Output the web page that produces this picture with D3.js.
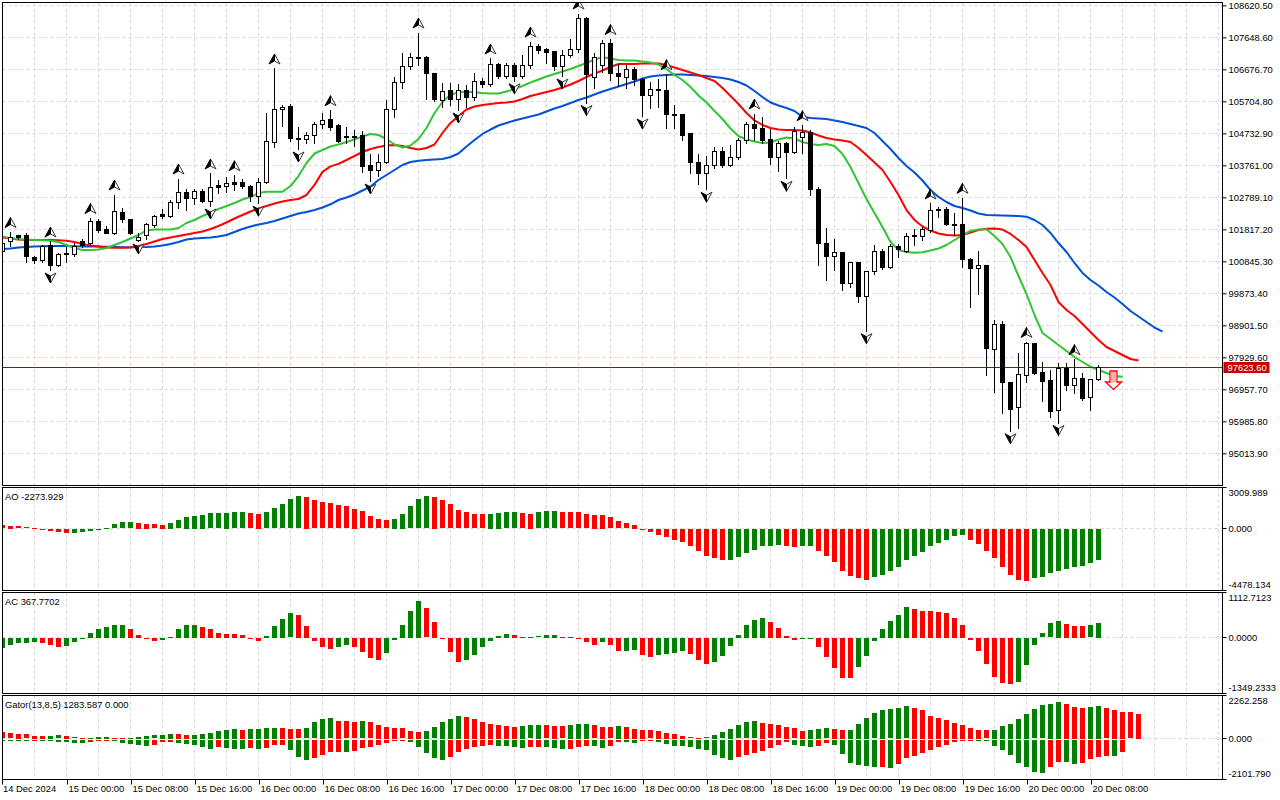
<!DOCTYPE html>
<html><head><meta charset="utf-8">
<script src="https://cdn.jsdelivr.net/npm/d3@7/dist/d3.min.js"></script>
<style>
html,body{margin:0;padding:0;background:#fff;}
svg{display:block;}
text{font-family:"Liberation Sans",Arial,sans-serif;font-size:9.4px;fill:#000;}
</style></head><body>
<svg id="c" width="1280" height="800"></svg>
<script>
// ---------------- DATA (BTCUSD H1) ----------------
const firstBarTime = "2024-12-14T16:00";
const lastPrice = 97623.60;

const open = [101158,101432,101644,101629,100961,100870,101340,100712,101097,101067,
101432,101401,102069,101796,101696,102334,102121,101492,101644,101933,
102252,102221,102637,102950,102738,102965,102656,103141,103117,103236,
103236,103132,102806,103236,104460,105441,105532,104581,104551,104651,
105006,105137,104955,104612,104605,104651,103740,103597,103846,105462,
106282,106762,107050,107041,106549,105744,106018,105766,106048,105826,
106321,106221,106829,106452,106807,106473,106786,107384,107263,107211,
106756,107111,107263,108226,106434,106777,107466,106534,106434,106677,
106352,105896,106063,106048,105289,105289,104712,103849,103518,103758,
104174,103758,104007,104511,104985,104885,104554,103983,104408,104144,
104612,104754,103011,101371,100985,101119,100177,100824,99770,100529,
101158,100663,101289,101137,101599,101599,101775,102425,102425,101978,
101948,100912,100633,100703,98173,98911,97173,96399,97392,98334,
97465,97210,96308,97596,97067,97292,96715,97262];
const high = [101492,101735,101659,101705,101006,101350,101447,101088,101280,101410,
101523,102160,102145,101917,102874,102455,102130,101705,102018,102252,
102425,102707,103360,103032,103041,103041,103512,103315,103406,103460,
103345,103163,103366,105349,106701,105592,105623,104924,104782,105076,
105349,105435,105006,104924,104833,104803,104104,104104,105744,106443,
107163,107163,107794,107066,106564,106252,106252,106230,106200,106555,
106403,107005,106859,106859,106859,107111,107521,107445,107315,107217,
107263,107588,108371,108265,107163,107567,107597,106838,106807,106756,
106403,106300,106382,106528,105592,105319,104733,104104,104044,104317,
104326,104378,104605,105076,105334,105219,104854,104511,104478,104915,
104979,104833,103093,101848,101514,101137,100833,100833,100551,101340,
101210,101371,101371,101702,101823,101896,102601,102504,102485,102309,
102775,100943,101158,100733,99062,99041,97192,98066,98397,98354,
97799,97544,97767,97767,97873,97465,97280,97696];
const low = [101097,101310,101523,100824,100794,100833,100581,100703,100824,101006,
101280,101340,101735,101690,101675,102030,101675,101462,101523,101902,
102151,102182,102464,102403,102586,102637,102525,102920,102959,103011,
103081,102662,102610,103217,104308,104955,104499,104256,104430,104439,
104894,104833,104460,104447,104347,103567,103284,103436,103816,105219,
106100,106671,106807,105775,105729,105532,105592,105441,105541,105744,
106130,106170,106412,106403,106327,106403,106725,107163,106877,106655,
106473,107041,107211,105668,106109,106595,106352,106170,106109,106200,
105258,105501,105532,104885,104894,104529,103518,103208,103035,103679,
103700,103725,103946,104439,104529,104447,103801,103597,103366,104126,
104135,102859,100733,100277,100581,99974,100074,99600,98738,100460,
100602,100651,100973,101119,101340,101492,101744,102200,101948,101644,
100669,99466,99852,97392,96867,96229,95697,95773,97192,97422,
96611,96107,95949,96936,96836,96633,96329,97240];
const close = [101401,101583,101583,100976,100870,101289,100703,101058,101067,101289,
101340,102069,101766,101693,102343,102100,101696,101583,101978,102221,
102206,102646,102941,102738,102959,102662,103087,103087,103205,103163,
103111,102806,103248,104469,105441,105523,104581,104560,104651,105015,
105128,104924,104499,104642,104621,103718,103597,103846,105462,106282,
106762,107041,107020,106549,105760,105996,105766,106048,105826,106321,
106221,106829,106452,106807,106473,106807,107384,107242,107181,106756,
107111,107263,108226,106504,107041,107466,106534,106452,106677,106352,
105896,106069,106069,105289,105280,104681,103849,103518,103764,104174,
103758,104007,104511,104985,104885,104529,103983,104408,104144,104782,
104754,103011,101371,100985,101119,100156,100824,99770,100529,101137,
100651,101289,101189,101599,101614,101796,102403,102412,101969,101963,
100912,100633,100703,98203,98911,97173,96350,97416,98334,97443,
97192,96277,97596,97067,97292,96684,97262,97623.6];

// Alligator (13,8,5 / shifts 8,5,3) - values per displayed bar, starting at bar 0
const jaw = [101219,101234,101264,101280,101295,101301,101310,101310,101310,101301,
101295,101295,101295,101289,101280,101271,101271,101271,101280,101295,
101325,101371,101432,101507,101538,101553,101568,101599,101644,101735,
101826,101902,101963,102009,102069,102145,102221,102297,102343,102403,
102479,102577,102707,102783,102874,102996,103117,103315,103467,103618,
103770,103861,103901,103922,103937,103952,104013,104119,104332,104529,
104712,104848,104970,105046,105122,105182,105243,105304,105395,105486,
105562,105653,105744,105820,105911,106002,106078,106154,106230,106306,
106397,106458,106488,106504,106519,106519,106504,106488,106473,106443,
106412,106367,106291,106185,106018,105835,105668,105577,105501,105410,
105228,105198,105182,105167,105122,105076,105015,104955,104894,104742,
104499,104256,103983,103740,103542,103299,103011,102801,102646,102525,
102464,102388,102297,102252,102242,102236,102230,102221,102200,102100,
101948,101705,101401,101128,100794,100490,100277,100110,99913,99746,
99548,99336,99169,99002,98835,98708];
const teeth = [101568,101538,101507,101492,101492,101492,101492,101483,101471,101432,
101371,101325,101295,101264,101258,101258,101264,101310,101371,101447,
101523,101568,101614,101659,101705,101751,101826,101917,102024,102145,
102252,102358,102449,102525,102601,102662,102707,102738,102859,103163,
103561,103728,103804,103922,104044,104165,104256,104317,104362,104378,
104347,104287,104241,104287,104393,104742,105046,105258,105456,105547,
105592,105623,105653,105668,105699,105775,105866,105926,105987,106048,
106124,106215,106321,106443,106549,106640,106747,106838,106838,106838,
106853,106853,106853,106807,106731,106655,106580,106504,106412,106321,
106109,105866,105623,105349,105122,104985,104894,104848,104833,104833,
104818,104757,104666,104590,104545,104514,104469,104287,104074,103846,
103618,103254,102859,102403,102100,101902,101781,101690,101644,101629,
101644,101720,101796,101836,101842,101811,101675,101492,101280,100885,
100490,100126,99609,99366,99184,98941,98698,98455,98242,98121,
98000,97878,97833];
const lips = [101593,101553,101514,101501,101492,101483,101471,101432,101340,101249,
101189,101189,101204,101249,101340,101432,101538,101644,101781,101811,
101811,101811,101857,102009,102100,102221,102327,102434,102525,102616,
102722,102798,102920,102959,102959,102959,103132,103436,103831,104119,
104225,104332,104393,104469,104545,104636,104712,104681,104560,104393,
104302,104362,104560,104894,105349,105684,105911,105972,105996,105978,
105957,105942,105942,106002,106078,106170,106276,106367,106458,106534,
106610,106686,106777,106868,106974,107041,107005,106959,106944,106944,
106914,106883,106822,106686,106504,106352,106139,105881,105668,105410,
105167,104879,104651,104545,104484,104439,104454,104545,104605,104575,
104469,104408,104378,104408,104347,104104,103710,103224,102738,102312,
101887,101432,101189,101128,101107,101119,101173,101234,101340,101492,
101644,101766,101811,101817,101614,101371,100976,100399,99852,99214,
98667,98485,98303,98121,97939,97787,97645,97544,97453,97362,
97340];

// Fractal bars
const fractalUp = [1,6,11,14,22,26,29,34,41,52,61,66,72,76,83,94,100,116,120,128,134];
const fractalDown = [6,17,26,32,37,46,57,64,70,73,80,88,98,108,126,132];

// Signal arrow
const signalBar = 139, signalPrice = 97514;

// Awesome Oscillator
const aoValues = [250,230,170,100,60,-40,-120,-240,-320,-310,
-245,-120,-50,70,320,460,470,415,340,315,
300,415,610,850,925,1000,1120,1125,1145,1195,
1200,1120,1095,1195,1485,1780,2140,2360,2340,2070,
1925,1850,1705,1630,1460,1265,900,680,610,730,
1095,1630,2140,2360,2310,2070,1780,1340,1195,1045,
1040,1095,1145,1195,1200,1120,1110,1190,1265,1270,
1195,1190,1185,1045,1000,995,830,535,390,290,
-30,-240,-415,-560,-780,-925,-1220,-1580,-1950,-2140,
-2240,-2235,-2020,-1730,-1510,-1265,-1220,-1145,-1220,-1290,
-1270,-1265,-1580,-1950,-2435,-3045,-3460,-3605,-3700,-3530,
-3335,-3045,-2750,-2240,-1950,-1655,-1265,-1000,-780,-535,
-440,-780,-1070,-1580,-2140,-2800,-3335,-3750,-3825,-3605,
-3530,-3240,-3045,-2945,-2800,-2680,-2510,-2273.929];
// Accelerator Oscillator
const acValues = [-237,-170,-123,-115,-98,-130,-172,-220,-196,-98,
-20,122,212,261,310,311,212,65,-25,-65,
-55,25,212,310,315,261,212,114,90,88,
65,-10,-80,49,286,457,596,555,286,-80,
-220,-278,-220,-180,-220,-351,-490,-547,-368,-41,
310,653,898,719,384,-25,-351,-588,-547,-425,
-220,-74,41,90,65,25,16,33,65,66,
25,8,-8,-98,-163,-98,-180,-318,-310,-290,
-425,-465,-425,-400,-368,-318,-400,-547,-645,-596,
-449,-204,65,310,433,490,384,245,49,-41,
-30,-25,-220,-465,-735,-980,-985,-710,-441,-74,
212,408,555,751,702,653,650,629,604,482,
310,-41,-318,-637,-956,-1103,-1127,-1078,-654,-172,
106,351,408,335,294,290,300,367.7702];
// Gator oscillator (upper shifted 5, lower shifted 3)
const gatorUpper = [329,277,242,225,156,139,156,173,139,69,
35,52,87,90,35,17,52,87,139,173,
208,242,240,190,192,242,294,416,450,502,
468,502,505,554,572,554,502,485,537,849,
1022,1057,935,900,849,900,849,727,624,572,
537,398,346,416,589,883,1022,1178,1126,1022,
866,762,710,658,606,658,693,710,693,658,
641,710,762,779,693,606,589,658,624,502,
450,433,398,312,242,139,69,35,69,190,
329,502,693,849,900,814,745,693,606,537,
416,450,520,537,520,450,468,762,1074,1316,
1490,1524,1593,1680,1593,1490,1178,1074,970,814,
710,554,450,433,450,658,762,1022,1282,1524,
1732,1801,1923,1801,1663,1611,1663,1697,1576,1490,
1403,1368,1283.587];
const gatorLower = [-17,-17,-35,-35,-34,-52,-69,-104,-121,-173,
-175,-104,-35,-17,-69,-173,-208,-277,-329,-277,
-121,-87,-173,-208,-277,-381,-450,-381,-416,-450,
-468,-433,-450,-416,-277,-242,-502,-901,-1022,-935,
-762,-624,-606,-624,-554,-416,-364,-277,-173,-69,
-35,-121,-381,-658,-935,-1039,-901,-624,-468,-364,
-329,-277,-294,-329,-381,-416,-364,-346,-364,-416,
-468,-450,-364,-294,-329,-416,-329,-104,-121,-139,
-69,-35,-104,-208,-294,-329,-346,-468,-520,-762,
-935,-1039,-901,-797,-675,-554,-416,-242,-104,-242,
-329,-381,-329,-156,-277,-727,-1195,-1316,-1368,-1403,
-1386,-1455,-1247,-935,-849,-675,-520,-364,-260,-104,
-35,-17,-21,-35,-329,-520,-779,-1195,-1403,-1663,
-1715,-1403,-1143,-1160,-1247,-1195,-970,-866,-814,-831,
-624];

// Axis tick labels
const priceTicks = ["108620.50","107648.60","106676.70","105704.80","104732.90","103761.00","102789.10","101817.20","100845.30","99873.40","98901.50","97929.60","96957.70","95985.80","95013.90"];
const aoTicks = ["3009.989","0.000","-4478.134"];
const acTicks = ["1112.7123","0.0000","-1349.2333"];
const gatorTicks = ["2262.258","0.000","-2101.790"];
const firstDateLabel = "14 Dec 2024";
const lastTimeLabel = "2024-12-20T08:00";

// ---------------- CHART ----------------
const svg = d3.select("#c");
const fmtLocale = d3.formatLocale({decimal:".", thousands:"", grouping:[3], currency:["",""], minus:"-"});
const GREEN = "#008000", RED = "#ff0000";
const L = 2.5, R = 1222.5;
const P = {
  main: {top: 2.5, bottom: 485.5},
  ao: {top: 487.5, bottom: 590.5},
  ac: {top: 592.5, bottom: 693.5},
  gator: {top: 695.5, bottom: 779.5}
};

const parse = d3.utcParse("%Y-%m-%dT%H:%M");
const t0 = parse(firstBarTime);
const barTime = i => d3.utcHour.offset(t0, i);
const x = d3.scaleUtc().domain([t0, barTime(145)]).range([2.5, 2.5 + 8 * 145]);
const cx = i => x(barTime(i));

const pNum = priceTicks.map(Number);
const yMain = d3.scaleLinear().domain([pNum[pNum.length-1], pNum[0]]).range([453.3, 5.3]);
const yAO = d3.scaleLinear().domain([+aoTicks[2], +aoTicks[0]]).range([590, 487.5]);
const yAC = d3.scaleLinear().domain([+acTicks[2], +acTicks[0]]).range([692.7, 592.3]);
const yG = d3.scaleLinear().domain([+gatorTicks[2], +gatorTicks[0]]).range([779, 695]);
const snap = v => Math.round(v - 0.5) + 0.5;

svg.append("rect").attr("width",1280).attr("height",800).attr("fill","#fff");

const defs = svg.append("defs");
Object.entries(P).forEach(([k,p]) => {
  defs.append("clipPath").attr("id","clip-"+k).append("rect")
    .attr("x",L).attr("y",p.top).attr("width",R-L).attr("height",p.bottom-p.top);
});

// vertical grid (every 4 hours)
const gridTimes = d3.utcHour.every(4).range(barTime(1), barTime(153));
Object.entries(P).forEach(([k,p]) => {
  const g = svg.append("g").attr("clip-path",`url(#clip-${k})`);
  g.selectAll("line").data(gridTimes).join("line")
    .attr("x1", d => snap(x(d))).attr("x2", d => snap(x(d)))
    .attr("y1", p.top).attr("y2", p.bottom)
    .attr("stroke","#d6d6d6").attr("stroke-dasharray","3,3");
});
// horizontal grid main
svg.append("g").selectAll("line").data(pNum).join("line")
  .attr("x1",L).attr("x2",R)
  .attr("y1", d => snap(yMain(d))).attr("y2", d => snap(yMain(d)))
  .attr("stroke","#d6d6d6").attr("stroke-dasharray","3,3");
// zero lines in sub panels
[yAO, yAC, yG].forEach(s => {
  svg.append("line").attr("x1",L).attr("x2",R)
    .attr("y1",snap(s(0))).attr("y2",snap(s(0)))
    .attr("stroke","#d6d6d6").attr("stroke-dasharray","3,3");
});

// ---- main panel ----
const gm = svg.append("g").attr("clip-path","url(#clip-main)");
const lineGen = d3.line().x((d,i) => cx(i)).y(d => yMain(d));
[[jaw,"#0050d8"],[teeth,"#ff0000"],[lips,"#33c433"]].forEach(([arr,col]) => {
  gm.append("path").attr("d", lineGen(arr)).attr("fill","none")
    .attr("stroke",col).attr("stroke-width",2).attr("stroke-linejoin","round");
});

// price line
gm.append("line").attr("x1",L).attr("x2",R)
  .attr("y1",snap(yMain(lastPrice))).attr("y2",snap(yMain(lastPrice)))
  .attr("stroke","#b40000").attr("stroke-width",1);

// candles
const candles = gm.append("g").attr("shape-rendering","crispEdges");
d3.range(open.length).forEach(i => {
  const c = snap(cx(i));
  candles.append("line").attr("x1",c).attr("x2",c)
    .attr("y1",Math.round(yMain(high[i]))).attr("y2",Math.round(yMain(low[i]))+1)
    .attr("stroke","#000");
  const yT = snap(yMain(Math.max(open[i],close[i])));
  let yB = snap(yMain(Math.min(open[i],close[i])));
  if (yB - yT < 1) yB = yT + 1;
  const up = close[i] >= open[i];
  candles.append("rect").attr("x",c-2).attr("width",4)
    .attr("y",yT).attr("height",yB-yT)
    .attr("fill", up ? "#fff" : "#000").attr("stroke","#000");
});

// fractals
const fr = gm.append("g");
fractalUp.forEach(i => {
  const g = fr.append("g").attr("transform",`translate(${cx(i)},${yMain(high[i])-9})`);
  g.append("path").attr("d","M0,-5.5 L5.5,4.5 L0,1.5 Z").attr("fill","#fff").attr("stroke","#333").attr("stroke-width",1);
  g.append("path").attr("d","M0,-5.5 L0,1.5 L-5.5,4.5 Z").attr("fill","#000").attr("stroke","#000").attr("stroke-width",1);
});
fractalDown.forEach(i => {
  const g = fr.append("g").attr("transform",`translate(${cx(i)},${yMain(low[i])+7.5})`);
  g.append("path").attr("d","M0,5.5 L5.5,-4.5 L0,-1.5 Z").attr("fill","#fff").attr("stroke","#333").attr("stroke-width",1);
  g.append("path").attr("d","M0,5.5 L0,-1.5 L-5.5,-4.5 Z").attr("fill","#000").attr("stroke","#000").attr("stroke-width",1);
});

// signal arrow
{
  const g = gm.append("g").attr("transform",`translate(${cx(signalBar)-1},${yMain(signalPrice)})`);
  g.append("path").attr("d","M-3.5,0 L3.5,0 L3.5,11 L8,11 L0,18.5 L-8,11 L-3.5,11 Z")
    .attr("fill","#fff").attr("stroke","#ff0000").attr("stroke-width",1.3);
  g.append("rect").attr("x",-2.5).attr("y",1).attr("width",5).attr("height",10.5).attr("fill","#ffb0a8");
}

// ---- histograms ----
function colors(arr, first, absMode) {
  const out = [];
  arr.forEach((v,i) => {
    if (i === 0) { out.push(first); return; }
    const a = absMode ? Math.abs(arr[i]) : arr[i];
    const b = absMode ? Math.abs(arr[i-1]) : arr[i-1];
    out.push(a > b ? GREEN : (a < b ? RED : out[i-1]));
  });
  return out;
}
function histo(data, scale, clip, cols) {
  const g = svg.append("g").attr("clip-path",`url(#clip-${clip})`).attr("shape-rendering","crispEdges");
  g.selectAll("rect").data(data).join("rect")
    .attr("x",(d,i) => Math.round(cx(i) - 2.5))
    .attr("width",5)
    .attr("y", d => Math.round(scale(Math.max(0,d))))
    .attr("height", d => Math.max(1, Math.round(Math.abs(scale(d) - scale(0)))))
    .attr("fill",(d,i) => cols[i]);
}
histo(aoValues, yAO, "ao", colors(aoValues, RED, false));
histo(acValues, yAC, "ac", colors(acValues, GREEN, false));
histo(gatorUpper, yG, "gator", colors(gatorUpper, RED, true));
{
  const col = colors(gatorLower, GREEN, true);
  const g = svg.append("g").attr("clip-path","url(#clip-gator)").attr("shape-rendering","crispEdges");
  g.selectAll("rect").data(gatorLower).join("rect")
    .attr("x",(d,i) => Math.round(cx(i) - 2.5)).attr("width",5)
    .attr("y", Math.round(yG(0)) + 1)
    .attr("height", d => Math.max(1, Math.round(yG(d) - yG(0))))
    .attr("fill",(d,i) => col[i]);
}

// ---- panel borders ----
Object.values(P).forEach(p => {
  svg.append("rect").attr("x",L).attr("y",p.top).attr("width",R-L).attr("height",p.bottom-p.top)
    .attr("fill","none").attr("stroke","#000").attr("stroke-width",1);
});

// ---- right price axis ----
const ax = svg.append("g").attr("transform",`translate(${R},0)`)
  .call(d3.axisRight(yMain).tickValues(pNum).tickSize(4).tickPadding(2).tickFormat((d,i) => priceTicks[i]));
ax.select(".domain").remove();
ax.selectAll("text").attr("font-family",null).attr("font-size",null);
ax.selectAll("line").attr("stroke","#000");

// current price label
{
  const yy = snap(yMain(lastPrice));
  svg.append("rect").attr("x",R+1).attr("y",yy-5.5).attr("width",46).attr("height",11).attr("fill","#c80000");
  svg.append("text").attr("x",R+5).attr("y",yy).attr("dy","0.35em").style("fill","#fff")
    .text(fmtLocale.format(".2f")(lastPrice));
}

// sub panel axes
function subAxis(scale, labels, top, bottom, offs) {
  const ys = [top, scale(0), bottom];
  const ty = [top + offs[0], scale(0), bottom + offs[1]];
  labels.forEach((lab, k) => {
    svg.append("line").attr("x1",R).attr("x2",R+4).attr("y1",snap(ys[k])).attr("y2",snap(ys[k])).attr("stroke","#000");
    svg.append("text").attr("x",R+6).attr("y",ty[k]).attr("dy","0.35em").text(lab);
  });
}
subAxis(yAO, aoTicks, P.ao.top, P.ao.bottom, [5, -5.5]);
subAxis(yAC, acTicks, P.ac.top, P.ac.bottom, [5, -5.5]);
subAxis(yG, gatorTicks, P.gator.top, P.gator.bottom, [5, -6]);

// panel titles
svg.append("text").attr("x",5).attr("y",496.7).attr("dy","0.35em")
  .text("AO " + fmtLocale.format(".3f")(aoValues[aoValues.length-1]));
svg.append("text").attr("x",5).attr("y",601.7).attr("dy","0.35em")
  .text("AC " + fmtLocale.format(".4f")(acValues[acValues.length-1]));
svg.append("text").attr("x",5).attr("y",704.3).attr("dy","0.35em")
  .text("Gator(13,8,5) " + fmtLocale.format(".3f")(gatorUpper[gatorUpper.length-1]) + " " + fmtLocale.format(".3f")(0));

// ---- time axis ----
const tickTimes = d3.utcHour.every(8).range(barTime(1), d3.utcHour.offset(parse(lastTimeLabel), 1));
const tfmt = d3.utcFormat("%d %b %H:%M");
const xa = svg.append("g").attr("transform",`translate(0,${P.gator.bottom})`)
  .call(d3.axisBottom(x).tickValues(tickTimes).tickSize(5).tickFormat(tfmt));
xa.select(".domain").remove();
xa.selectAll(".tick line").attr("stroke","#000").attr("transform","translate(0.5,0)");
xa.selectAll("text").attr("font-family",null).attr("font-size",null)
  .attr("text-anchor","start").attr("x",1.5).attr("y",5).attr("dy","0.8em");
svg.append("line").attr("x1",L).attr("x2",L).attr("y1",P.gator.bottom).attr("y2",P.gator.bottom+5).attr("stroke","#000");
svg.append("text").attr("x",3).attr("y",P.gator.bottom+5).attr("dy","0.8em").text(firstDateLabel);
</script>
</body></html>
